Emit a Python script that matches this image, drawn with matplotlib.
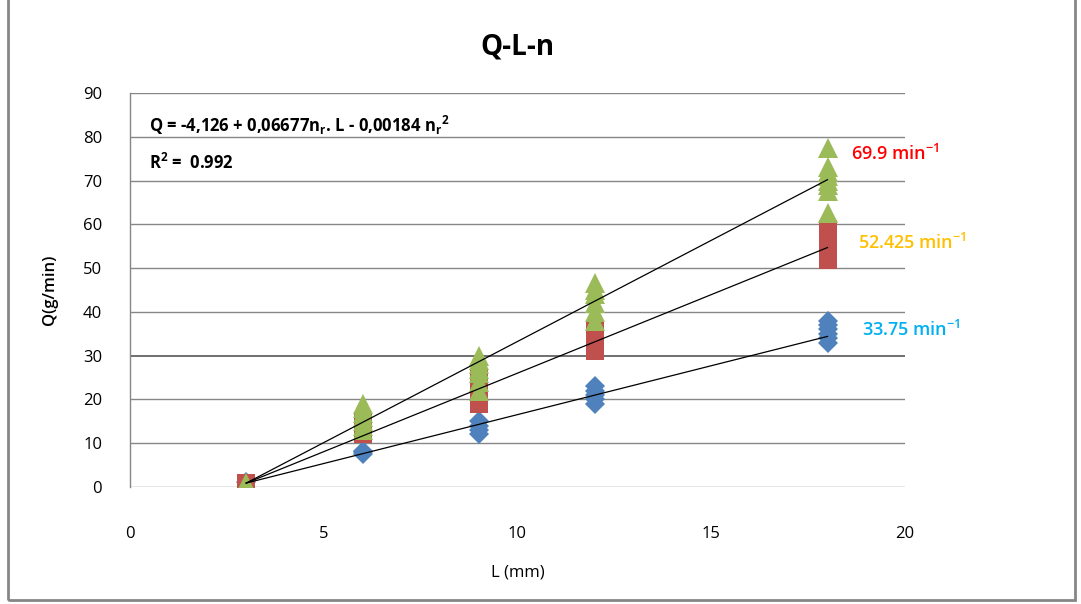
import matplotlib
matplotlib.use("Agg")
import matplotlib.pyplot as plt
from matplotlib.patches import Rectangle

plt.rcParams['font.family'] = ['Open Sans', 'DejaVu Sans']
plt.rcParams['mathtext.default'] = 'regular'

# ---- data ----
blue_x = [3, 6, 6, 6, 9, 9, 9, 9, 12, 12, 12, 12, 12, 18, 18, 18, 18, 18, 18]
blue_y = [1.2, 7.5, 8.0, 8.2, 12, 13, 14, 15, 19, 20, 21, 22, 23, 33, 34, 35, 36, 37, 38]

red_x = [3, 6, 6, 6, 6, 9, 9, 9, 9, 9, 12, 12, 12, 12, 12, 18, 18, 18, 18, 18]
red_y = [1.0, 12, 13, 14, 15, 19, 20, 22, 24, 25, 31, 32, 34, 35, 36, 51.8, 54, 56, 58, 59]

green_x = [3, 6, 6, 6, 6, 6, 6, 6, 9, 9, 9, 9, 9, 9, 9,
           12, 12, 12, 12, 12, 12, 18, 18, 18, 18, 18, 18, 18, 18]
green_y = [0.8, 13, 14, 15, 16, 17, 18, 19, 22, 24, 26, 27, 28, 29, 30,
           38, 40, 42, 44, 45, 46.5, 62.5, 67.5, 69, 70, 71, 72, 73, 77.5]

trend_x = [3, 18]
trend_blue = [0.9, 34.4]
trend_red = [0.9, 54.7]
trend_green = [0.9, 70.2]

speed_labels = ["69.9", "52.425", "33.75"]
speed_pos_y = [76, 55.7, 35.8]
speed_colors = ["#FF0000", "#FFC000", "#00B0F0"]

x_ticks = [0, 5, 10, 15, 20]
y_ticks = [0, 10, 20, 30, 40, 50, 60, 70, 80, 90]

# ---- figure ----
fig = plt.figure(figsize=(10.81, 6.04), dpi=100)
ax = fig.add_axes([130 / 1081, 1 - 487 / 604, 775 / 1081, 394 / 604])

grid_c = "#868686"
for yv in y_ticks:
    ax.axhline(yv, color=("#6f6f6f" if yv == 30 else grid_c),
               lw=(1.4 if yv == 30 else 1.0), zorder=0)

ax.plot(blue_x, blue_y, linestyle='none', marker='D', markersize=10.5,
        color="#4F81BD", markeredgewidth=0, zorder=2)
ax.plot(red_x, red_y, linestyle='none', marker='s', markersize=13.5,
        color="#C0504D", markeredgewidth=0, zorder=3)
ax.plot(green_x, green_y, linestyle='none', marker='^', markersize=14,
        color="#9BBB59", markeredgewidth=0, zorder=4)

for ty in (trend_blue, trend_red, trend_green):
    ax.plot(trend_x, ty, color="black", lw=0.9, zorder=5)

ax.set_xlim(0, 20)
ax.set_ylim(0, 90)
ax.set_xticks(x_ticks)
ax.set_yticks(y_ticks)
ax.tick_params(axis='both', length=0, labelsize=12, colors="#000000")
ax.tick_params(axis='x', pad=28)
ax.tick_params(axis='y', pad=20)

for s in ('top', 'right', 'bottom'):
    ax.spines[s].set_visible(False)
ax.spines['left'].set_color(grid_c)
ax.spines['left'].set_linewidth(1.0)

ax.set_xlabel("L (mm)", fontsize=12, labelpad=16)
ax.set_ylabel("Q(g/min)", fontsize=12, labelpad=18, fontweight='semibold')

ax.set_title("Q-L-n", fontsize=20, fontweight='bold', pad=28)

ax.text(0.5, 82.6, r"Q = -4,126 + 0,06677n$_{r}$. L - 0,00184 n$_{r}$$^{2}$",
        fontsize=12, fontweight='bold', va='center', ha='left', zorder=6)
ax.text(0.5, 74, r"R$^{2}$ =  0.992", fontsize=12, fontweight='bold',
        va='center', ha='left', zorder=6)

for lab, yy, cc, xx in zip(speed_labels, speed_pos_y, speed_colors, [18.6, 18.8, 18.9]):
    ax.text(xx, yy, lab + r" min$^{-1}$", color=cc, fontsize=13,
            fontweight='semibold', va='center', ha='left', clip_on=False)

fig.patches.append(Rectangle((8 / 1081, 4 / 604), 1067 / 1081, 1.2,
                             transform=fig.transFigure, fill=False,
                             edgecolor=grid_c, lw=2))

fig.savefig("out.png", dpi=100)
